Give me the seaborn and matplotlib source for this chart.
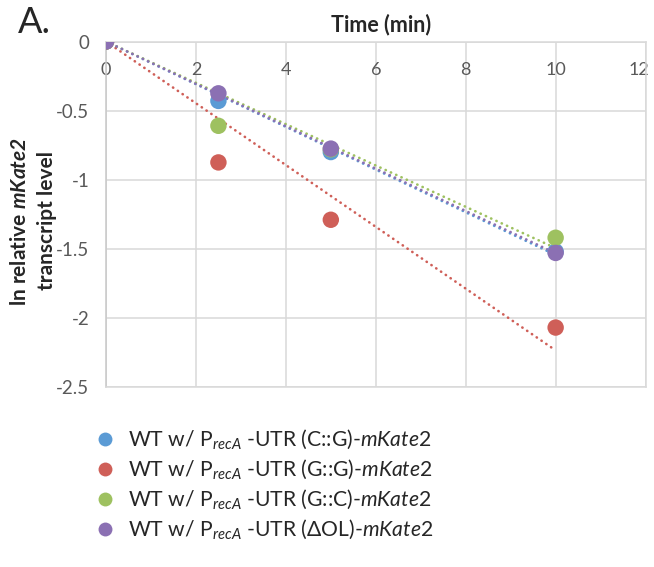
import numpy as np
import pandas as pd
import matplotlib
matplotlib.use("Agg")
import matplotlib.pyplot as plt
from matplotlib.lines import Line2D
from matplotlib.transforms import ScaledTranslation
import seaborn as sns


# time points (min)
times = [0, 2.5, 5, 10]

# ln relative mKate2 transcript level per construct
cg_values = [0.0, -0.43, -0.80, -1.52]
gg_values = [0.0, -0.875, -1.29, -2.07]
gc_values = [0.0, -0.61, -0.78, -1.42]
dol_values = [0.0, -0.375, -0.775, -1.53]

strains = ["C::G", "G::G", "G::C", "ΔOL"]
colors = ["#5B9BD5", "#CF5F58", "#9EC160", "#8B70B3"]
legend_labels = [
    r"WT w/ P$_{\mathit{recA}}$ -UTR (C::G)-$\mathit{mKate2}$",
    r"WT w/ P$_{\mathit{recA}}$ -UTR (G::G)-$\mathit{mKate2}$",
    r"WT w/ P$_{\mathit{recA}}$ -UTR (G::C)-$\mathit{mKate2}$",
    r"WT w/ P$_{\mathit{recA}}$ -UTR (ΔOL)-$\mathit{mKate2}$",
]


def build_frames():
    """
    Long-form points plus linear trendlines forced through the origin.
    """

    series = [cg_values, gg_values, gc_values, dol_values]

    points = pd.DataFrame({
        "time": np.tile(times, len(strains)),
        "value": np.concatenate(series),
        "strain": np.repeat(strains, len(times)),
    })

    fits = []
    x = np.array(times)
    for strain, vals in zip(strains, series):
        y = np.array(vals)
        slope = np.sum(x * y) / np.sum(x * x)
        fits.append(pd.DataFrame({
            "time": [x.min(), x.max()],
            "value": [0.0, slope * x.max()],
            "strain": strain,
        }))

    return points, pd.concat(fits, ignore_index=True)


def main():
    sns.set_style("white")
    plt.rcParams["font.family"] = ["Lato", "DejaVu Sans"]
    plt.rcParams["mathtext.fontset"] = "custom"
    plt.rcParams["mathtext.rm"] = "Lato"
    plt.rcParams["mathtext.it"] = "Lato:italic"
    plt.rcParams["mathtext.bf"] = "Lato:bold"
    plt.rcParams["mathtext.bfit"] = "Lato:bold:italic"

    points, fits = build_frames()
    palette = dict(zip(strains, colors))

    fig = plt.figure(figsize=(6.54, 5.67), dpi=100)
    ax = fig.add_axes([0.1621, 0.3175, 0.8250, 0.6093])

    sns.lineplot(
        data=fits,
        x="time",
        y="value",
        hue="strain",
        palette=palette,
        linestyle=(0, (0.1, 2.1)),
        dash_capstyle="round",
        linewidth=1.9,
        legend=False,
        ax=ax,
        zorder=2
    )

    sns.scatterplot(
        data=points,
        x="time",
        y="value",
        hue="strain",
        palette=palette,
        s=140,
        linewidth=0,
        legend=False,
        ax=ax,
        zorder=3
    )

    ax.set_xlim(0, 12)
    ax.set_ylim(-2.5, 0)
    ax.set_xticks(np.arange(0, 13, 2))
    ax.set_yticks(np.arange(-2.5, 0.01, 0.5))
    ax.set_yticklabels(["-2.5", "-2", "-1.5", "-1", "-0.5", "0"])

    ax.grid(True, color="#D9D9D9", linewidth=1.1)
    for side in ["top", "bottom", "left", "right"]:
        ax.spines[side].set_visible(True)
        ax.spines[side].set_color("#D9D9D9")
        ax.spines[side].set_linewidth(1.1)
    ax.spines["left"].set_color("#C8C8C8")

    ax.tick_params(
        axis="x", top=True, labeltop=True, bottom=False,
        labelbottom=False, length=0, pad=-26,
        labelsize=13, labelcolor="#595959"
    )
    ax.tick_params(
        axis="y", length=0, pad=12,
        labelsize=13.5, labelcolor="#595959"
    )

    # nudge the last top label so it stays inside the canvas
    last = ax.xaxis.get_major_ticks()[-1].label2
    last.set_transform(
        last.get_transform() + ScaledTranslation(-5 / 72, 0, fig.dpi_scale_trans)
    )

    ax.xaxis.set_label_position("top")
    ax.set_xlabel("Time (min)", fontsize=15.5, fontweight="bold")
    ax.xaxis.set_label_coords(0.51, 1.03)
    ax.set_ylabel("")

    # two-line y axis title, placed like the original
    fig.text(20 / 654, 1 - 222 / 567, "ln relative $\\mathbfit{mKate2}$",
             rotation=90, ha="center", va="center",
             fontsize=15, fontweight="bold")
    fig.text(47 / 654, 1 - 220 / 567, "transcript level",
             rotation=90, ha="center", va="center",
             fontsize=15, fontweight="bold")

    fig.text(0.027, 0.99, "A.", fontsize=26, va="top", ha="left")

    handles = [
        Line2D([], [], marker="o", linestyle="none",
               markersize=10, markerfacecolor=c, markeredgewidth=0)
        for c in colors
    ]
    fig.legend(
        handles,
        legend_labels,
        loc="upper left",
        bbox_to_anchor=(0.115, 0.279),
        frameon=False,
        fontsize=15.2,
        handletextpad=0.6,
        labelspacing=0.3,
        handlelength=1.0
    )

    fig.savefig("out.png", dpi=100)
    plt.close(fig)


if __name__ == "__main__":
    main()
